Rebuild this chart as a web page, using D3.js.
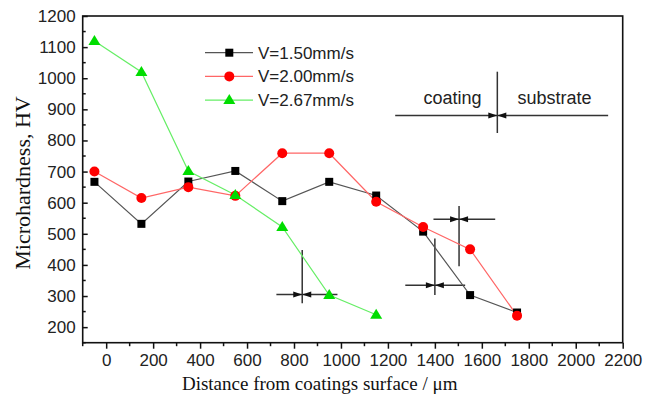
<!DOCTYPE html>
<html><head><meta charset="utf-8">
<script src="https://cdn.jsdelivr.net/npm/d3@7/dist/d3.min.js"></script>
<style>body{margin:0;background:#fff}svg{display:block}</style>
</head><body>
<svg id="c" width="645" height="399"></svg>
<script>
// ---- data ----
const distances = [-50, 150, 350, 550, 750, 950, 1150, 1350, 1550, 1750];
const seriesNames = ["V=1.50mm/s", "V=2.00mm/s", "V=2.67mm/s"];
const hv150 = [667, 532, 668, 702, 605, 667, 623, 507, 303, 247];
const hv200 = [700, 615, 650, 622, 759, 759, 603, 522, 450, 237];
const hv267 = [1120, 1020, 702, 625, 522, 303, 240];
const xTicks = [0, 200, 400, 600, 800, 1000, 1200, 1400, 1600, 1800, 2000, 2200];
const yTicks = [200, 300, 400, 500, 600, 700, 800, 900, 1000, 1100, 1200];
// boundary markers (data units): vertical at x from y0 to y1, horizontal at hy from hx0 to hx1
const markX  = [835, 1400, 1503, 1666];
const markY0 = [448, 485, 589, 1021];
const markY1 = [277, 303, 396, 824];
const markHY = [305, 335, 547, 880];
const markHX0 = [725, 1274, 1394, 1231];
const markHX1 = [985, 1529, 1657, 2138];
const regionLabels = ["coating", "substrate"];
const regionLabelX = [1475, 1910];
const regionLabelY = [917, 917];

// ---- layout ----
const svg = d3.select("#c");
const L = 82.7, R = 622.7, T = 16, B = 342.7;
const x = d3.scaleLinear().domain([-100, 2200]).range([L, R]);
const y = d3.scaleLinear().domain([150, 1200]).range([B, T]);
const sans = "Arial, 'Liberation Sans', sans-serif";
const serif = "'Times New Roman', 'Liberation Serif', serif";

// frame
svg.append("rect").attr("x", L).attr("y", T).attr("width", R - L).attr("height", B - T)
  .attr("fill", "none").attr("stroke", "#111").attr("stroke-width", 1.6);

// x axis (outward ticks)
const xAx = svg.append("g").attr("transform", `translate(0,${B})`)
  .call(d3.axisBottom(x).tickValues(xTicks).tickSize(6).tickPadding(5).tickFormat(d3.format("d")));
xAx.select(".domain").remove();
xAx.selectAll(".tick line").attr("stroke", "#111").attr("stroke-width", 1.5);
xAx.selectAll("text").attr("font-family", sans).attr("font-size", 17).attr("fill", "#222");
const xMinor = d3.range(-100, 2201, 100).filter(v => v % 200 !== 0);
svg.append("g").selectAll("line").data(xMinor).join("line")
  .attr("x1", d => x(d)).attr("x2", d => x(d)).attr("y1", B).attr("y2", B + 3.5)
  .attr("stroke", "#111").attr("stroke-width", 1.5);

// y axis (inward ticks)
const yAx = svg.append("g").attr("transform", `translate(${L},0)`)
  .call(d3.axisLeft(y).tickValues(yTicks).tickSize(-5).tickPadding(7).tickFormat(d3.format("d")));
yAx.select(".domain").remove();
yAx.selectAll(".tick line").attr("stroke", "#111").attr("stroke-width", 1.5);
yAx.selectAll("text").attr("font-family", sans).attr("font-size", 17).attr("fill", "#222");
const yMinor = d3.range(150, 1200, 100);
svg.append("g").selectAll("line").data(yMinor).join("line")
  .attr("x1", L).attr("x2", L + 3).attr("y1", d => y(d)).attr("y2", d => y(d))
  .attr("stroke", "#111").attr("stroke-width", 1.5);

// axis titles
svg.append("text").attr("x", (L + R) / 2 - 33).attr("y", 390).attr("text-anchor", "middle")
  .attr("font-family", serif).attr("font-size", 19).attr("fill", "#111")
  .text("Distance from coatings surface / \u03bcm");
svg.append("text").attr("transform", `translate(30,${183}) rotate(-90)`).attr("text-anchor", "middle")
  .attr("font-family", serif).attr("font-size", 22).attr("fill", "#111")
  .text("Microhardness, HV");

// boundary markers
const mk = svg.append("g");
const lineCol = "#333";
markX.forEach((mx, i) => {
  const vx = x(mx), hy = y(markHY[i]);
  mk.append("line").attr("x1", vx).attr("x2", vx).attr("y1", y(markY0[i])).attr("y2", y(markY1[i]))
    .attr("stroke", lineCol).attr("stroke-width", 1.5);
  mk.append("line").attr("x1", x(markHX0[i])).attr("x2", x(markHX1[i])).attr("y1", hy).attr("y2", hy)
    .attr("stroke", lineCol).attr("stroke-width", 1.5);
  mk.append("path").attr("d", `M${vx},${hy} l-9,-3 l0,6 Z`).attr("fill", "#111");
  mk.append("path").attr("d", `M${vx},${hy} l9,-3 l0,6 Z`).attr("fill", "#111");
});
regionLabels.forEach((t, i) => {
  svg.append("text").attr("x", x(regionLabelX[i])).attr("y", y(regionLabelY[i]))
    .attr("text-anchor", "middle").attr("font-family", sans).attr("font-size", 18).attr("fill", "#222").text(t);
});

// series
const series = [
  {name: seriesNames[0], vals: hv150, line: "#555", fill: "#000", shape: "square"},
  {name: seriesNames[1], vals: hv200, line: "#ff6666", fill: "#ff0000", shape: "circle"},
  {name: seriesNames[2], vals: hv267, line: "#66ee66", fill: "#00dd00", shape: "triangle"}
];
function marker(g, s, cx, cy) {
  if (s.shape === "square") g.append("rect").attr("x", cx - 4).attr("y", cy - 4).attr("width", 8).attr("height", 8).attr("fill", s.fill);
  else if (s.shape === "circle") g.append("circle").attr("cx", cx).attr("cy", cy).attr("r", 5).attr("fill", s.fill);
  else g.append("path").attr("d", `M${cx},${cy - 6} L${cx + 6},${cy + 4} L${cx - 6},${cy + 4} Z`).attr("fill", s.fill);
}
const lineGen = d3.line().x(d => x(d[0])).y(d => y(d[1]));
const seriesG = svg.append("g");
series.forEach(s => {
  const pts = s.vals.map((v, i) => [distances[i], v]);
  seriesG.append("path").attr("d", lineGen(pts)).attr("fill", "none").attr("stroke", s.line).attr("stroke-width", 1.2);
});
series.forEach(s => {
  s.vals.forEach((v, i) => marker(seriesG, s, x(distances[i]), y(v)));
});

// legend
const lg = svg.append("g");
series.forEach((s, i) => {
  const cy = 52.7 + i * 23.7;
  lg.append("line").attr("x1", 205).attr("x2", 253).attr("y1", cy).attr("y2", cy).attr("stroke", s.line).attr("stroke-width", 1.2);
  marker(lg, s, 229.3, cy);
  lg.append("text").attr("x", 258).attr("y", cy + 6).attr("font-family", sans).attr("font-size", 17).attr("fill", "#222").text(s.name);
});
</script>
</body></html>
